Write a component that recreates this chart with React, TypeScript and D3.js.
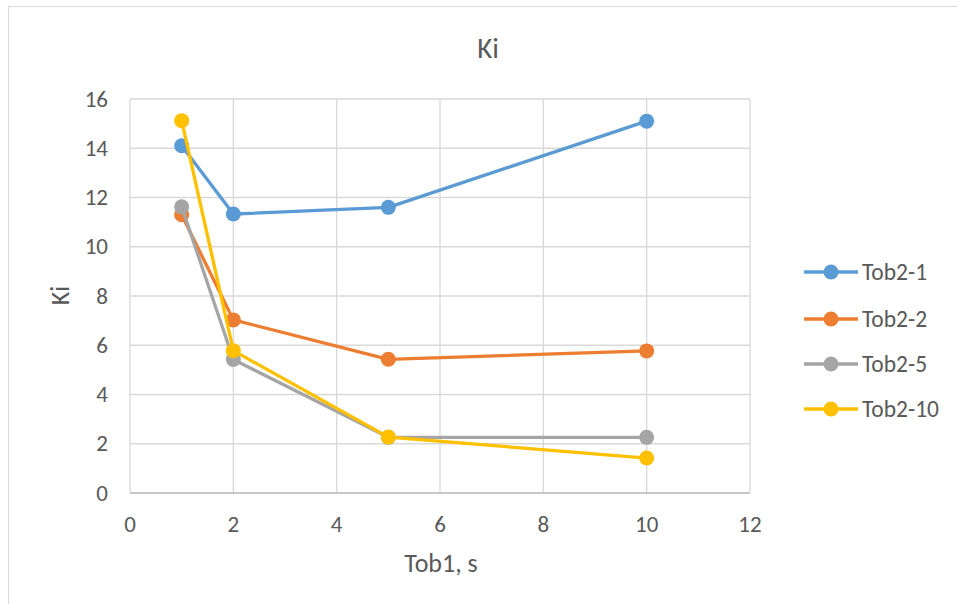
import React from "react";
import * as d3 from "d3";

const xValues = [1, 2, 5, 10];
const seriesNames = ["Tob2-1", "Tob2-2", "Tob2-5", "Tob2-10"];
const tob2_1 = [14.1, 11.33, 11.6, 15.1];
const tob2_2 = [11.3, 7.03, 5.43, 5.77];
const tob2_5 = [11.62, 5.42, 2.26, 2.26];
const tob2_10 = [15.12, 5.78, 2.27, 1.42];
const seriesColors = ["#5b9bd5", "#ed7d31", "#a5a5a5", "#ffc000"];
const xTicks = [0, 2, 4, 6, 8, 10, 12];
const yTicks = [0, 2, 4, 6, 8, 10, 12, 14, 16];

const W = 957;
const H = 604;
const FONT = "Carlito, Calibri, Lato, 'Open Sans', 'Liberation Sans', sans-serif";

export default function App() {
  const x = d3.scaleLinear().domain([0, 12]).range([130, 750]);
  const y = d3.scaleLinear().domain([0, 16]).range([493, 99]);
  const allSeries = [tob2_1, tob2_2, tob2_5, tob2_10];
  const line = d3
    .line<number>()
    .x((_, i) => x(xValues[i]))
    .y((d) => y(d));
  const legendY = [272, 319, 364, 409];

  return (
    <div style={{ position: "fixed", left: 0, top: 0 }}>
      <svg width={W} height={H} style={{ display: "block", background: "#fff" }}>
        <rect x={8.5} y={6.5} width={W + 10} height={H + 10} fill="#fff" stroke="#d9d9d9" strokeWidth={1} />
        <text x={488} y={57.5} textAnchor="middle" fontFamily={FONT} fontSize={29} fill="#595959">
          Ki
        </text>
        {/* gridlines */}
        {yTicks.map((t) => (
          <line key={"gy" + t} x1={x(0)} x2={x(12)} y1={y(t)} y2={y(t)} stroke="#d9d9d9" strokeWidth={1.3} />
        ))}
        {xTicks.map((t) => (
          <line key={"gx" + t} x1={x(t)} x2={x(t)} y1={y(0)} y2={y(16)} stroke="#d9d9d9" strokeWidth={1.3} />
        ))}
        <line x1={x(0)} x2={x(12)} y1={y(0)} y2={y(0)} stroke="#bfbfbf" strokeWidth={1.3} />
        {/* tick labels */}
        {yTicks.map((t) => (
          <text key={"ty" + t} x={108} y={y(t) + 7.5} textAnchor="end" fontFamily={FONT} fontSize={23} fill="#595959">
            {t}
          </text>
        ))}
        {xTicks.map((t) => (
          <text key={"tx" + t} x={x(t)} y={532} textAnchor="middle" fontFamily={FONT} fontSize={23} fill="#595959">
            {t}
          </text>
        ))}
        <text x={441} y={572} textAnchor="middle" fontFamily={FONT} fontSize={26} fill="#595959">
          Tob1, s
        </text>
        <text
          transform={`translate(69,${295.5}) rotate(-90)`}
          textAnchor="middle"
          fontFamily={FONT}
          fontSize={26}
          fill="#595959"
        >
          Ki
        </text>
        {/* series */}
        {allSeries.map((s, si) => (
          <g key={"s" + si}>
            <path d={line(s) || ""} fill="none" stroke={seriesColors[si]} strokeWidth={3.3} strokeLinejoin="round" />
            {s.map((v, i) => (
              <circle key={i} cx={x(xValues[i])} cy={y(v)} r={7.5} fill={seriesColors[si]} />
            ))}
          </g>
        ))}
        {/* legend */}
        {seriesNames.map((n, i) => (
          <g key={"l" + i}>
            <line x1={804} x2={858} y1={legendY[i]} y2={legendY[i]} stroke={seriesColors[i]} strokeWidth={3.3} />
            <circle cx={831} cy={legendY[i]} r={7.5} fill={seriesColors[i]} />
            <text x={862} y={legendY[i] + 7.5} fontFamily={FONT} fontSize={23.5} fill="#595959">
              {n}
            </text>
          </g>
        ))}
      </svg>
    </div>
  );
}
